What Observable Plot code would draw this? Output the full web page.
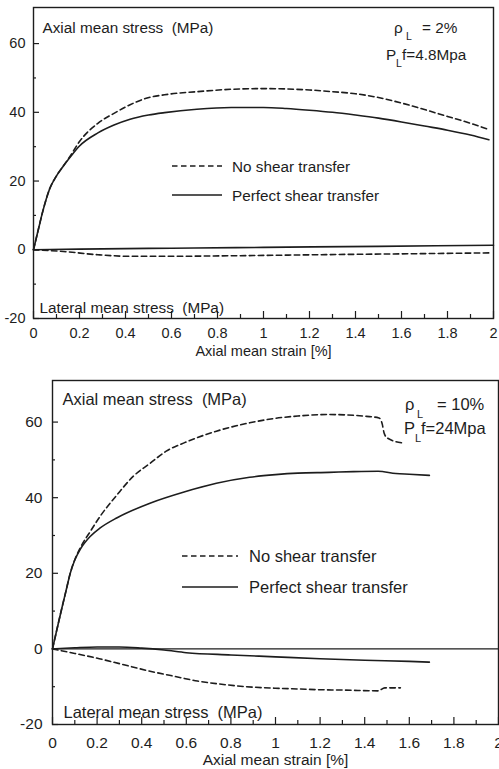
<!DOCTYPE html>
<html>
<head>
<meta charset="utf-8">
<script src="https://cdn.jsdelivr.net/npm/d3@7"></script>
<script src="https://cdn.jsdelivr.net/npm/@observablehq/plot@0.6"></script>
<style>
  html, body { margin: 0; padding: 0; background: #fff; }
  #fig { position: relative; width: 499px; height: 769px; overflow: hidden; background: #fff; }
  #fig svg { position: absolute; left: 0; }
</style>
</head>
<body>
<div id="fig"></div>
<script>
// Axis ticks
const xMajor = [0, 0.2, 0.4, 0.6, 0.8, 1, 1.2, 1.4, 1.6, 1.8, 2];
const xMinor = [0.1, 0.3, 0.5, 0.7, 0.9, 1.1, 1.3, 1.5, 1.7, 1.9];
const yMajor = [-20, 0, 20, 40, 60];
const yMinor = [-10, 10, 30, 50];

const seriesLabels = ["No shear transfer", "Perfect shear transfer"];
const axialTitle = "Axial mean stress\u00a0\u00a0(MPa)";
const lateralTitle = "Lateral mean stress\u00a0\u00a0(MPa)";
const strainTitle = "Axial mean strain [%]";

// rho_L = 2 %, P_L f = 4.8 MPa
const p2Annot = ["2%", "4.8Mpa"];
const p2PerfectStrain = [0, 0.02, 0.04, 0.07, 0.1, 0.13, 0.16, 0.2, 0.28, 0.35, 0.42, 0.5, 0.57, 0.71, 0.86, 1.0, 1.1, 1.2, 1.3, 1.4, 1.5, 1.6, 1.7, 1.8, 1.9, 1.98];
const p2PerfectAxial  = [0, 5.6, 11.1, 17.7, 21.5, 24.4, 27.0, 30.2, 34.0, 36.3, 38.0, 39.2, 39.9, 40.9, 41.4, 41.4, 41.1, 40.6, 40.0, 39.2, 38.3, 37.2, 36.0, 34.8, 33.4, 32.0];
const p2NoShearStrain = [0, 0.02, 0.04, 0.07, 0.1, 0.13, 0.16, 0.2, 0.28, 0.35, 0.42, 0.49, 0.57, 0.71, 0.86, 1.0, 1.1, 1.2, 1.3, 1.4, 1.5, 1.6, 1.7, 1.8, 1.9, 1.98];
const p2NoShearAxial  = [0, 5.6, 11.1, 17.7, 21.5, 24.4, 27.3, 31.5, 36.8, 39.7, 42.2, 44.1, 45.1, 46.0, 46.7, 46.9, 46.8, 46.5, 46.0, 45.4, 44.3, 42.7, 40.8, 38.8, 36.8, 35.0];
const p2PerfectLatStrain = [0, 0.2, 0.5, 0.7, 1.0, 1.5, 2.0];
const p2PerfectLateral   = [0, 0.2, 0.4, 0.5, 0.7, 1.0, 1.3];
const p2NoShearLatStrain = [0, 0.13, 0.28, 0.42, 0.57, 0.86, 1.29, 1.73, 1.99];
const p2NoShearLateral   = [0, -0.5, -1.45, -1.9, -1.9, -1.75, -1.4, -1.1, -0.9];

// rho_L = 10 %, P_L f = 24 MPa
const p10Annot = ["10%", "24Mpa"];
const p10PerfectStrain = [0, 0.02, 0.04, 0.06, 0.08, 0.1, 0.125, 0.17, 0.214, 0.29, 0.44, 0.59, 0.735, 0.884, 1.0, 1.1, 1.24, 1.35, 1.46, 1.54, 1.6, 1.69];
const p10PerfectAxial  = [0, 5.2, 10.3, 15.2, 20.1, 23.5, 26.4, 29.8, 32.0, 34.7, 38.6, 41.5, 43.8, 45.4, 46.1, 46.5, 46.7, 46.9, 47.0, 46.4, 46.2, 45.9];
const p10NoShearStrain = [0, 0.02, 0.04, 0.06, 0.08, 0.1, 0.125, 0.17, 0.214, 0.29, 0.363, 0.44, 0.51, 0.59, 0.735, 0.884, 1.0, 1.1, 1.24, 1.39, 1.464, 1.479, 1.487, 1.501, 1.568];
const p10NoShearAxial  = [0, 5.2, 10.3, 15.2, 20.1, 23.6, 26.8, 31.1, 35.1, 40.8, 45.7, 49.2, 52.3, 54.5, 57.6, 59.8, 61.0, 61.6, 62.0, 61.6, 61.1, 59.4, 57.1, 55.8, 54.5];
const p10PerfectLatStrain = [0, 0.1, 0.2, 0.3, 0.4, 0.5, 0.6, 0.8, 1.0, 1.2, 1.4, 1.6, 1.69];
const p10PerfectLateral   = [0, 0.3, 0.5, 0.5, 0.2, -0.3, -1.0, -1.6, -2.1, -2.6, -3.0, -3.3, -3.5];
const p10NoShearLatStrain = [0, 0.1, 0.21, 0.3, 0.43, 0.55, 0.65, 0.75, 0.87, 1.0, 1.1, 1.2, 1.31, 1.46, 1.49, 1.56];
const p10NoShearLateral   = [0, -1.2, -2.6, -3.9, -5.8, -7.3, -8.5, -9.3, -10.0, -10.4, -10.6, -10.8, -10.9, -11.1, -10.3, -10.3];

const INK = "#1d1d1d";
const FONT = "'Liberation Sans', Arial, Helvetica, sans-serif";
const DASH = "5.5,3.5";

const rows = (xs, ys) => xs.map((x, i) => ({strain: x, stress: ys[i]}));

function drawPanel(cfg) {
  const innerW = 499 - cfg.ml - cfg.mr;
  const innerH = cfg.height - cfg.mt - cfg.mb;
  const curve = (data, dashed) => Plot.line(data, {
    x: "strain", y: "stress", stroke: INK, strokeWidth: 1.6,
    strokeDasharray: dashed ? DASH : null, curve: "monotone-x"
  });
  // inward ticks: rules trimmed so that only `len` pixels remain against the axis
  const inTicksX = (values, len) => Plot.ruleX(values, {stroke: INK, strokeWidth: 1.2, insetTop: innerH - len});
  const inTicksY = (values, len) => Plot.ruleY(values, {stroke: INK, strokeWidth: 1.2, insetRight: innerW - len});
  const plot = Plot.plot({
    width: 499,
    height: cfg.height,
    marginLeft: cfg.ml, marginRight: cfg.mr, marginTop: cfg.mt, marginBottom: cfg.mb,
    style: {fontFamily: FONT, fontSize: cfg.tickFont + "px", color: INK, background: "transparent", overflow: "visible"},
    x: {domain: [0, 2]},
    y: {domain: cfg.yDomain},
    marks: [
      cfg.zeroRule ? Plot.ruleY([0], {stroke: INK, strokeWidth: 1.4}) : null,
      curve(cfg.perfectAxial, false),
      curve(cfg.noShearAxial, true),
      curve(cfg.perfectLateral, false),
      curve(cfg.noShearLateral, true),
      Plot.frame({stroke: INK, strokeWidth: 1.4}),
      inTicksX(xMajor, 7),
      inTicksX(xMinor, 4),
      inTicksY(yMajor, 6),
      inTicksY(yMinor, 3),
      Plot.axisX(xMajor, {tickSize: 0, tickPadding: cfg.xPad, tickFormat: d => String(d), fontSize: cfg.tickFont, fill: INK, label: null}),
      Plot.axisY(yMajor, {tickSize: 0, tickPadding: cfg.yPad, tickFormat: d => String(d), fontSize: cfg.tickFont, fill: INK, label: null}),
      Plot.text([strainTitle], {frameAnchor: "bottom", textAnchor: "middle", lineAnchor: "top", dy: cfg.labelOffset, fontSize: cfg.tickFont, fill: INK}),
      Plot.text([axialTitle], {frameAnchor: "top-left", textAnchor: "start", lineAnchor: "top", dx: cfg.titleDx, dy: cfg.axialDy, fontSize: cfg.titleFont, fill: INK}),
      Plot.text([lateralTitle], {frameAnchor: "bottom-left", textAnchor: "start", lineAnchor: "bottom", dx: cfg.latDx, dy: cfg.latDy, fontSize: cfg.titleFont, fill: INK})
    ]
  });
  plot.style.top = cfg.top + "px";

  const svg = d3.select(plot);
  const txt = (x, y, s, size) => svg.append("text").attr("x", x).attr("y", y)
    .attr("text-anchor", "start")
    .attr("font-family", FONT).attr("font-size", size).attr("fill", INK).text(s);
  // legend
  cfg.legend.rows.forEach((r, i) => {
    svg.append("line")
      .attr("x1", cfg.legend.x0).attr("x2", cfg.legend.x1)
      .attr("y1", r).attr("y2", r)
      .attr("stroke", INK).attr("stroke-width", 1.6)
      .attr("stroke-dasharray", i === 0 ? DASH : null);
    txt(cfg.legend.xt, r, seriesLabels[i], cfg.titleFont).attr("dy", "0.36em");
  });
  // reinforcement annotation
  const a = cfg.annot;
  txt(a.rhoX, a.y1, "\u03c1", cfg.titleFont);
  txt(a.rhoX + a.subRho, a.y1 + a.subDy, "L", a.subFont);
  txt(a.rhoX + a.eqDx, a.y1, "= " + a.values[0], cfg.titleFont);
  txt(a.pX, a.y2, "P", cfg.titleFont);
  txt(a.pX + a.subP, a.y2 + a.subDy, "L", a.subFont);
  txt(a.pX + a.fDx, a.y2, "f=" + a.values[1], cfg.titleFont);

  document.getElementById("fig").appendChild(plot);
}

drawPanel({
  top: 0, height: 365, ml: 33, mr: 6, mt: 7, mb: 47,
  yDomain: [-20, 70.5],
  tickFont: 14.5, titleFont: 15.3,
  xPad: 9, yPad: 8, labelOffset: 27,
  titleDx: 9, axialDy: 15, latDx: 6, latDy: -6,
  zeroRule: false,
  perfectAxial: rows(p2PerfectStrain, p2PerfectAxial),
  noShearAxial: rows(p2NoShearStrain, p2NoShearAxial),
  perfectLateral: rows(p2PerfectLatStrain, p2PerfectLateral),
  noShearLateral: rows(p2NoShearLatStrain, p2NoShearLateral),
  legend: {x0: 172, x1: 222, xt: 232, rows: [166, 195]},
  annot: {values: p2Annot, rhoX: 394, y1: 33, pX: 386, y2: 60, subRho: 12, subP: 10, subDy: 7, eqDx: 28, fDx: 16, subFont: 10.5}
});

drawPanel({
  top: 370, height: 399, ml: 52, mr: 1, mt: 10, mb: 45,
  yDomain: [-20, 71],
  tickFont: 15.5, titleFont: 16.5,
  xPad: 12, yPad: 10, labelOffset: 29,
  titleDx: 10, axialDy: 13, latDx: 11, latDy: -7,
  zeroRule: true,
  perfectAxial: rows(p10PerfectStrain, p10PerfectAxial),
  noShearAxial: rows(p10NoShearStrain, p10NoShearAxial),
  perfectLateral: rows(p10PerfectLatStrain, p10PerfectLateral),
  noShearLateral: rows(p10NoShearLatStrain, p10NoShearLateral),
  legend: {x0: 182, x1: 238, xt: 249, rows: [186, 217]},
  annot: {values: p10Annot, rhoX: 405, y1: 40, pX: 404, y2: 64, subRho: 12, subP: 11, subDy: 8, eqDx: 32, fDx: 17, subFont: 11}
});
</script>
</body>
</html>
